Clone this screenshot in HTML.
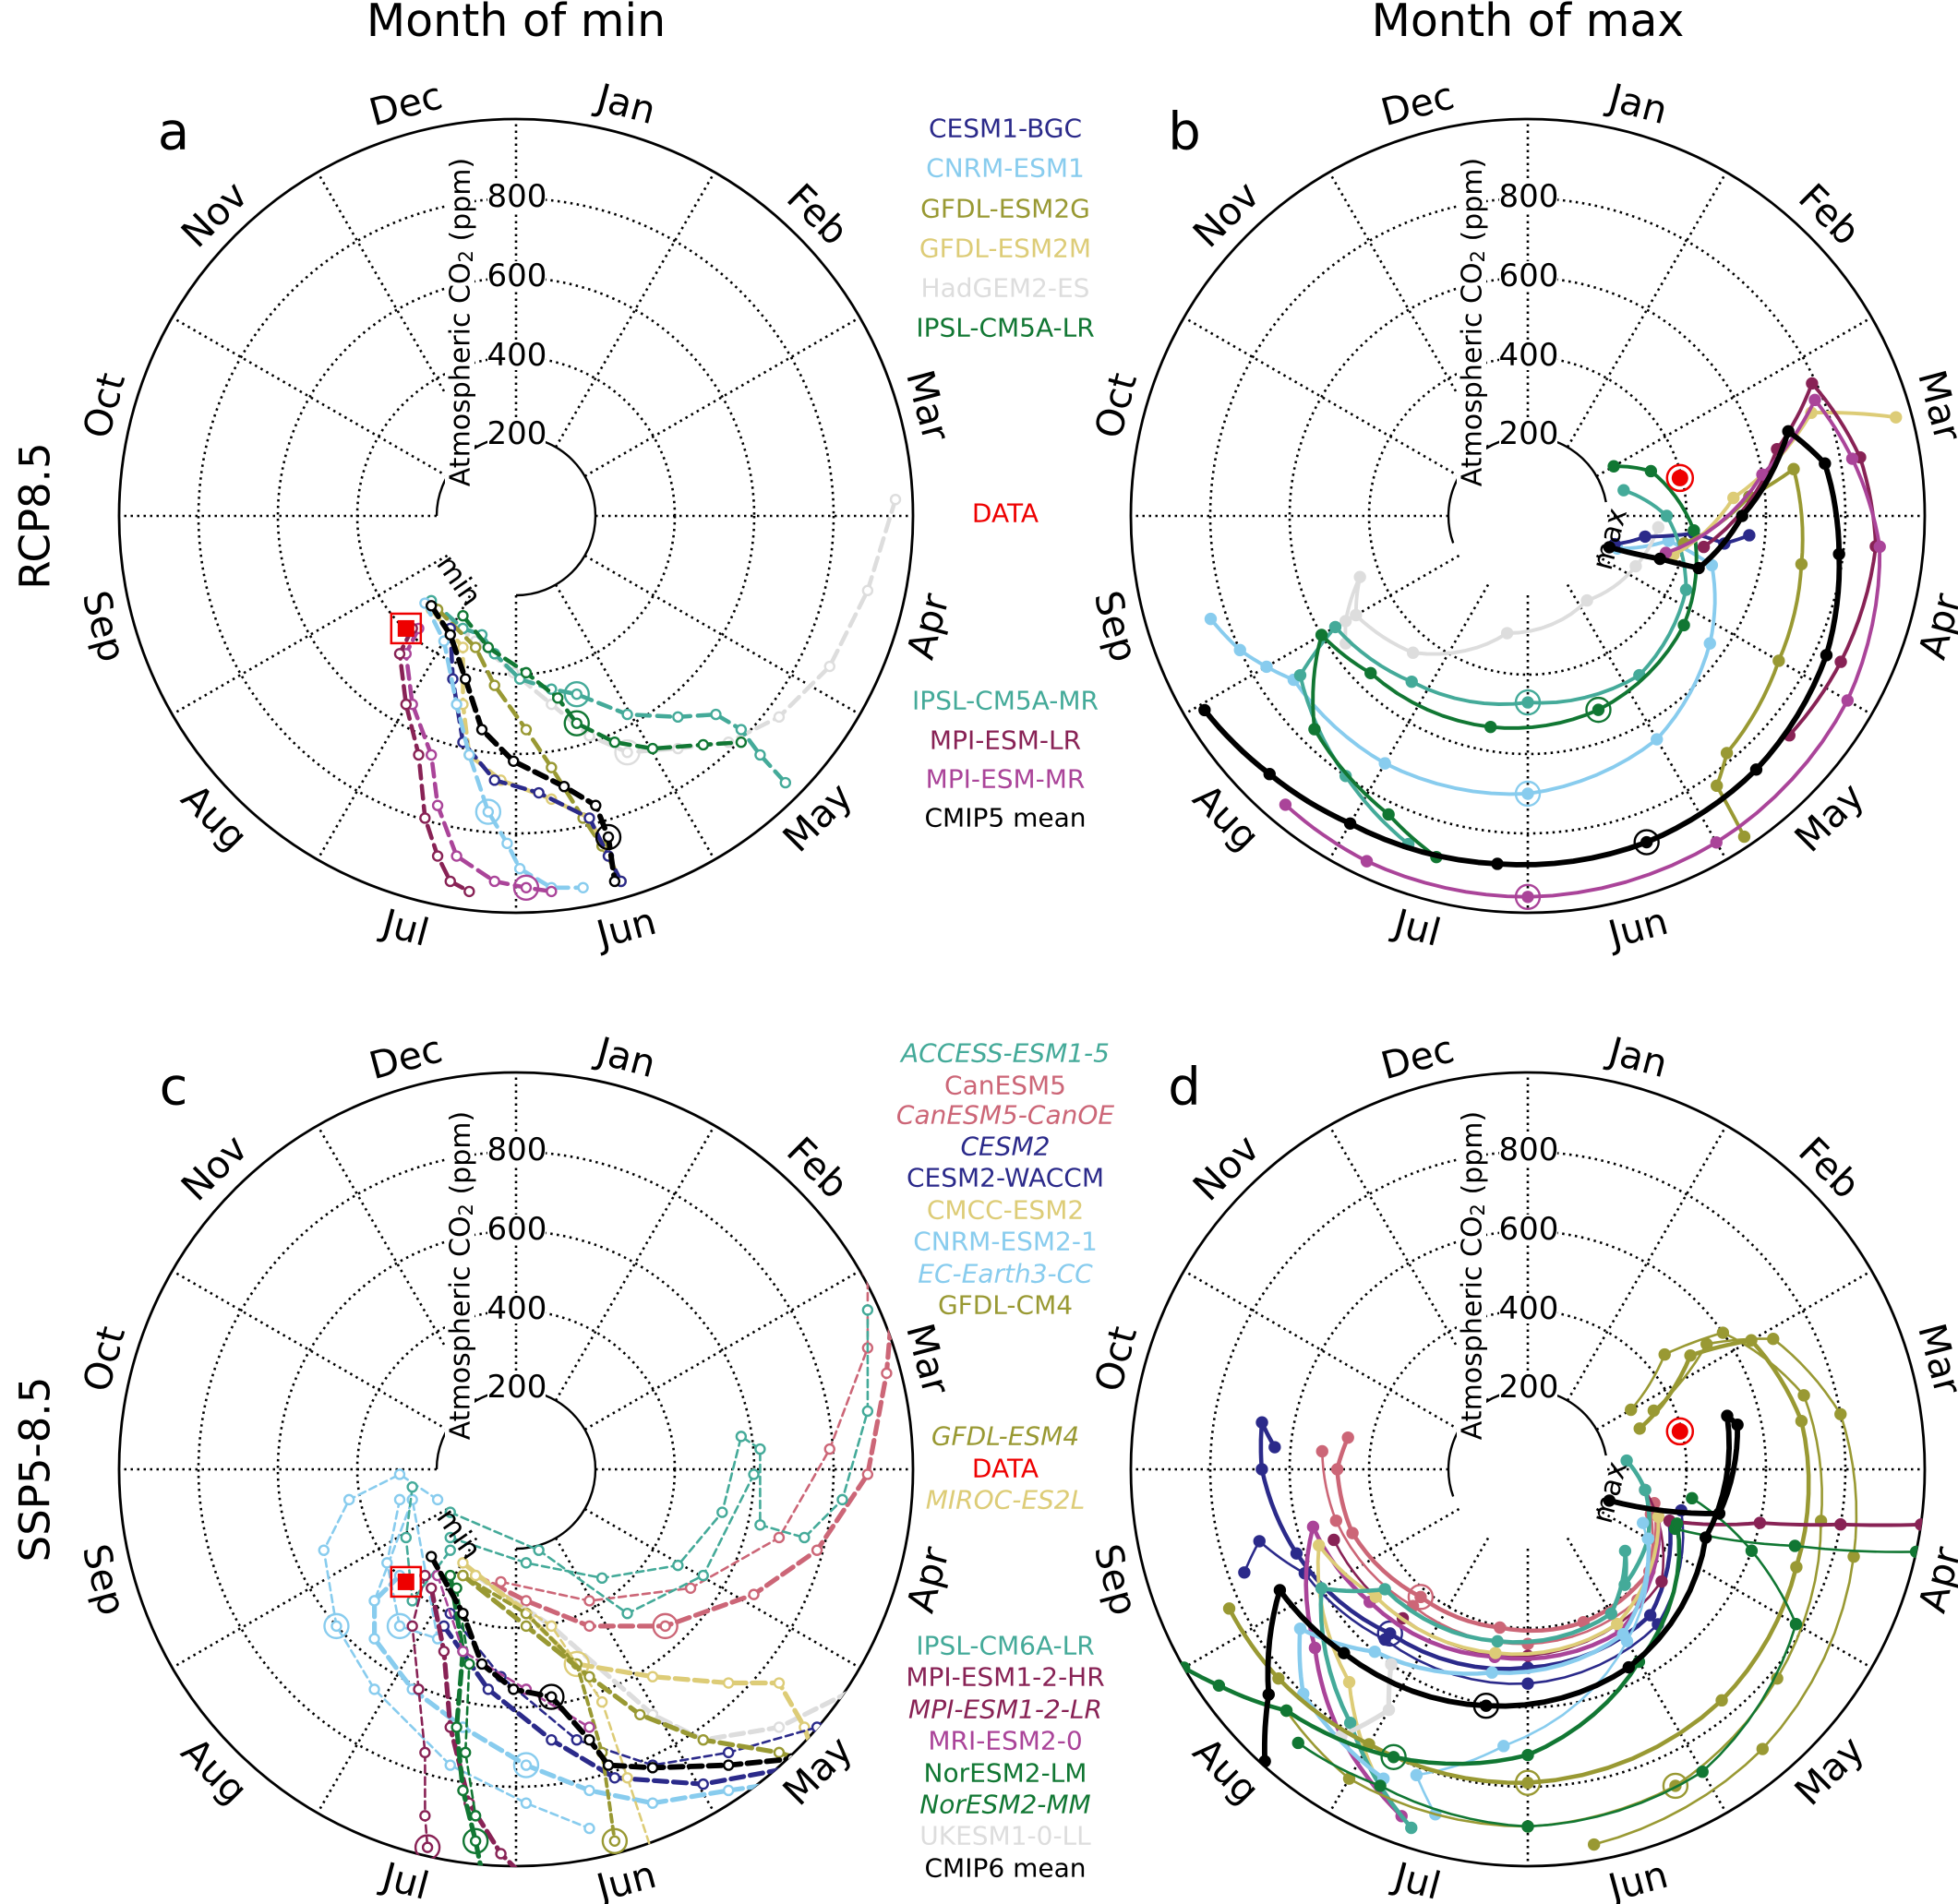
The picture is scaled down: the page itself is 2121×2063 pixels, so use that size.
<!DOCTYPE html>
<html><head><meta charset="utf-8"><style>
html,body{margin:0;padding:0;background:#fff;}
svg{display:block;font-family:"DejaVu Sans","Liberation Sans",sans-serif;}
.mon{font-size:41px;text-anchor:middle;dominant-baseline:central;}
.tick{font-size:34px;text-anchor:middle;dominant-baseline:central;}
.lg{font-size:28px;text-anchor:middle;dominant-baseline:central;}
.it{font-style:italic;}
.ttl{font-size:49px;text-anchor:middle;}
.let{font-size:56px;text-anchor:middle;dominant-baseline:central;}
</style></head><body>
<svg id="s" width="2121" height="2063" viewBox="0 0 2121 2063" xmlns="http://www.w3.org/2000/svg">
<defs>
<clipPath id="ca"><circle cx="559" cy="559" r="431"/></clipPath>
<clipPath id="cb"><circle cx="1655" cy="559" r="431"/></clipPath>
<clipPath id="cc"><circle cx="559" cy="1592" r="431"/></clipPath>
<clipPath id="cd"><circle cx="1655" cy="1592" r="431"/></clipPath>
</defs>
<g id="grid"></g>
<g id="curves"></g>
<g id="labels">
<text class="ttl" x="559" y="39">Month of min</text>
<text class="ttl" x="1655" y="39">Month of max</text>
<text class="let" x="188" y="143">a</text>
<text class="let" x="1283" y="143">b</text>
<text class="let" x="188" y="1178">c</text>
<text class="let" x="1283" y="1178">d</text>
<text class="ttl" transform="translate(38 559) rotate(-90)" y="0" dominant-baseline="central" style="font-size:45px">RCP8.5</text>
<text class="ttl" transform="translate(38 1592) rotate(-90)" y="0" dominant-baseline="central" style="font-size:45px">SSP5-8.5</text>

<g transform="translate(559 559)">
<text class="mon" transform="rotate(15) translate(0 -462)">Jan</text>
<text class="mon" transform="rotate(45) translate(0 -462)">Feb</text>
<text class="mon" transform="rotate(75) translate(0 -462)">Mar</text>
<text class="mon" transform="rotate(105) translate(0 -462) rotate(180)">Apr</text>
<text class="mon" transform="rotate(135) translate(0 -462) rotate(180)">May</text>
<text class="mon" transform="rotate(165) translate(0 -462) rotate(180)">Jun</text>
<text class="mon" transform="rotate(195) translate(0 -462) rotate(180)">Jul</text>
<text class="mon" transform="rotate(225) translate(0 -462) rotate(180)">Aug</text>
<text class="mon" transform="rotate(255) translate(0 -462) rotate(180)">Sep</text>
<text class="mon" transform="rotate(285) translate(0 -462)">Oct</text>
<text class="mon" transform="rotate(315) translate(0 -462)">Nov</text>
<text class="mon" transform="rotate(345) translate(0 -462)">Dec</text>
<text class="mon" style="font-size:31px" transform="translate(-62 70) rotate(55)">min</text>
</g>
<g transform="translate(1655 559)">
<text class="mon" transform="rotate(15) translate(0 -462)">Jan</text>
<text class="mon" transform="rotate(45) translate(0 -462)">Feb</text>
<text class="mon" transform="rotate(75) translate(0 -462)">Mar</text>
<text class="mon" transform="rotate(105) translate(0 -462) rotate(180)">Apr</text>
<text class="mon" transform="rotate(135) translate(0 -462) rotate(180)">May</text>
<text class="mon" transform="rotate(165) translate(0 -462) rotate(180)">Jun</text>
<text class="mon" transform="rotate(195) translate(0 -462) rotate(180)">Jul</text>
<text class="mon" transform="rotate(225) translate(0 -462) rotate(180)">Aug</text>
<text class="mon" transform="rotate(255) translate(0 -462) rotate(180)">Sep</text>
<text class="mon" transform="rotate(285) translate(0 -462)">Oct</text>
<text class="mon" transform="rotate(315) translate(0 -462)">Nov</text>
<text class="mon" transform="rotate(345) translate(0 -462)">Dec</text>
<text class="mon" style="font-size:31px" transform="translate(89 25) rotate(-75)">max</text>
</g>
<g transform="translate(559 1592)">
<text class="mon" transform="rotate(15) translate(0 -462)">Jan</text>
<text class="mon" transform="rotate(45) translate(0 -462)">Feb</text>
<text class="mon" transform="rotate(75) translate(0 -462)">Mar</text>
<text class="mon" transform="rotate(105) translate(0 -462) rotate(180)">Apr</text>
<text class="mon" transform="rotate(135) translate(0 -462) rotate(180)">May</text>
<text class="mon" transform="rotate(165) translate(0 -462) rotate(180)">Jun</text>
<text class="mon" transform="rotate(195) translate(0 -462) rotate(180)">Jul</text>
<text class="mon" transform="rotate(225) translate(0 -462) rotate(180)">Aug</text>
<text class="mon" transform="rotate(255) translate(0 -462) rotate(180)">Sep</text>
<text class="mon" transform="rotate(285) translate(0 -462)">Oct</text>
<text class="mon" transform="rotate(315) translate(0 -462)">Nov</text>
<text class="mon" transform="rotate(345) translate(0 -462)">Dec</text>
<text class="mon" style="font-size:31px" transform="translate(-62 70) rotate(55)">min</text>
</g>
<g transform="translate(1655 1592)">
<text class="mon" transform="rotate(15) translate(0 -462)">Jan</text>
<text class="mon" transform="rotate(45) translate(0 -462)">Feb</text>
<text class="mon" transform="rotate(75) translate(0 -462)">Mar</text>
<text class="mon" transform="rotate(105) translate(0 -462) rotate(180)">Apr</text>
<text class="mon" transform="rotate(135) translate(0 -462) rotate(180)">May</text>
<text class="mon" transform="rotate(165) translate(0 -462) rotate(180)">Jun</text>
<text class="mon" transform="rotate(195) translate(0 -462) rotate(180)">Jul</text>
<text class="mon" transform="rotate(225) translate(0 -462) rotate(180)">Aug</text>
<text class="mon" transform="rotate(255) translate(0 -462) rotate(180)">Sep</text>
<text class="mon" transform="rotate(285) translate(0 -462)">Oct</text>
<text class="mon" transform="rotate(315) translate(0 -462)">Nov</text>
<text class="mon" transform="rotate(345) translate(0 -462)">Dec</text>
<text class="mon" style="font-size:31px" transform="translate(89 25) rotate(-75)">max</text>
</g>

<g>
<text class="tick" x="560" y="470">200</text><text class="tick" x="560" y="385">400</text><text class="tick" x="560" y="299">600</text><text class="tick" x="560" y="213">800</text>
<text transform="translate(499 349) rotate(-90)" style="font-size:30px;text-anchor:middle;dominant-baseline:central">Atmospheric CO<tspan style="font-size:21px" dy="6">2</tspan><tspan dy="-6"> (ppm)</tspan></text>
</g>
<g transform="translate(1096 0)">
<text class="tick" x="560" y="470">200</text><text class="tick" x="560" y="385">400</text><text class="tick" x="560" y="299">600</text><text class="tick" x="560" y="213">800</text>
<text transform="translate(499 349) rotate(-90)" style="font-size:30px;text-anchor:middle;dominant-baseline:central">Atmospheric CO<tspan style="font-size:21px" dy="6">2</tspan><tspan dy="-6"> (ppm)</tspan></text>
</g>
<g transform="translate(0 1033)">
<text class="tick" x="560" y="470">200</text><text class="tick" x="560" y="385">400</text><text class="tick" x="560" y="299">600</text><text class="tick" x="560" y="213">800</text>
<text transform="translate(499 349) rotate(-90)" style="font-size:30px;text-anchor:middle;dominant-baseline:central">Atmospheric CO<tspan style="font-size:21px" dy="6">2</tspan><tspan dy="-6"> (ppm)</tspan></text>
</g>
<g transform="translate(1096 1033)">
<text class="tick" x="560" y="470">200</text><text class="tick" x="560" y="385">400</text><text class="tick" x="560" y="299">600</text><text class="tick" x="560" y="213">800</text>
<text transform="translate(499 349) rotate(-90)" style="font-size:30px;text-anchor:middle;dominant-baseline:central">Atmospheric CO<tspan style="font-size:21px" dy="6">2</tspan><tspan dy="-6"> (ppm)</tspan></text>
</g>

<text class="lg" x="1089" y="139" fill="#2b2a8a">CESM1-BGC</text>
<text class="lg" x="1089" y="182" fill="#88ccee">CNRM-ESM1</text>
<text class="lg" x="1089" y="226" fill="#999933">GFDL-ESM2G</text>
<text class="lg" x="1089" y="269" fill="#ddcc77">GFDL-ESM2M</text>
<text class="lg" x="1089" y="312" fill="#dddddd">HadGEM2-ES</text>
<text class="lg" x="1089" y="355" fill="#117733">IPSL-CM5A-LR</text>
<text class="lg" x="1089" y="556" fill="#ee0000">DATA</text>
<text class="lg" x="1089" y="759" fill="#44aa99">IPSL-CM5A-MR</text>
<text class="lg" x="1089" y="802" fill="#882255">MPI-ESM-LR</text>
<text class="lg" x="1089" y="844" fill="#aa4499">MPI-ESM-MR</text>
<text class="lg" x="1089" y="886" fill="#000">CMIP5 mean</text>
<text class="lg it" x="1089" y="1141" fill="#44aa99">ACCESS-ESM1-5</text>
<text class="lg" x="1089" y="1176" fill="#cc6677">CanESM5</text>
<text class="lg it" x="1089" y="1208" fill="#cc6677">CanESM5-CanOE</text>
<text class="lg it" x="1089" y="1242" fill="#2b2a8a">CESM2</text>
<text class="lg" x="1089" y="1276" fill="#2b2a8a">CESM2-WACCM</text>
<text class="lg" x="1089" y="1311" fill="#ddcc77">CMCC-ESM2</text>
<text class="lg" x="1089" y="1345" fill="#88ccee">CNRM-ESM2-1</text>
<text class="lg it" x="1089" y="1380" fill="#88ccee">EC-Earth3-CC</text>
<text class="lg" x="1089" y="1414" fill="#999933">GFDL-CM4</text>
<text class="lg it" x="1089" y="1556" fill="#999933">GFDL-ESM4</text>
<text class="lg" x="1089" y="1591" fill="#ee0000">DATA</text>
<text class="lg it" x="1089" y="1625" fill="#ddcc77">MIROC-ES2L</text>
<text class="lg" x="1089" y="1783" fill="#44aa99">IPSL-CM6A-LR</text>
<text class="lg" x="1089" y="1817" fill="#882255">MPI-ESM1-2-HR</text>
<text class="lg it" x="1089" y="1852" fill="#882255">MPI-ESM1-2-LR</text>
<text class="lg" x="1089" y="1886" fill="#aa4499">MRI-ESM2-0</text>
<text class="lg" x="1089" y="1921" fill="#117733">NorESM2-LM</text>
<text class="lg it" x="1089" y="1955" fill="#117733">NorESM2-MM</text>
<text class="lg" x="1089" y="1989" fill="#dddddd">UKESM1-0-LL</text>
<text class="lg" x="1089" y="2024" fill="#000">CMIP6 mean</text>
</g>
</svg>
<script>
(function(){
var NS="http://www.w3.org/2000/svg";
var grid=document.getElementById("grid"),cur=document.getElementById("curves");
function el(p,t,a){var e=document.createElementNS(NS,t);for(var k in a)e.setAttribute(k,a[k]);p.appendChild(e);return e;}
var P={a:[559,559,412,411],b:[1655,559,1222,411],c:[559,1592,412,1176],d:[1655,1592,1222,1176]};
function pol(p,th,v){var c=P[p],r=0.43*v,t=th*Math.PI/180;return [c[0]+r*Math.sin(t),c[1]-r*Math.cos(t)];}
function arcPath(cx,cy,r,a1,a2){var p1=[cx+r*Math.sin(a1*Math.PI/180),cy-r*Math.cos(a1*Math.PI/180)],p2=[cx+r*Math.sin(a2*Math.PI/180),cy-r*Math.cos(a2*Math.PI/180)];var span=((a2-a1)%360+360)%360;return "M"+p1[0]+","+p1[1]+" A"+r+","+r+" 0 "+(span>180?1:0)+" 1 "+p2[0]+","+p2[1];}
for(var k in P){var cx=P[k][0],cy=P[k][1];
 [172,258,344].forEach(function(r){el(grid,"circle",{cx:cx,cy:cy,r:r,fill:"none",stroke:"#000","stroke-width":2.6,"stroke-dasharray":"2.5 4.5"});});
 for(var i=0;i<12;i++){var t=i*30*Math.PI/180;el(grid,"line",{x1:cx+86*Math.sin(t),y1:cy-86*Math.cos(t),x2:cx+430*Math.sin(t),y2:cy-430*Math.cos(t),stroke:"#000","stroke-width":2.6,"stroke-dasharray":"2.5 4.5"});}
 el(grid,"circle",{cx:cx,cy:cy,r:430,fill:"none",stroke:"#000","stroke-width":2.8});
 var inner=(k=="a"||k=="c")?[270,180]:[250,80];
 el(grid,"path",{d:arcPath(cx,cy,86,inner[0],inner[1]),fill:"none",stroke:"#000","stroke-width":2.4});
}
[[559,559],[1655,559],[559,1592],[1655,1592]].forEach(function(c){
 [470,385,299,213].forEach(function(y){el(grid,"rect",{x:c[0]-31,y:y-559+c[1]-16,width:63,height:32,fill:"#fff"});});
 el(grid,"rect",{x:c[0]-77,y:c[1]-400,width:32,height:378,fill:"#fff"});
});
var S=1.37;
function xy(p,pts){var c=P[p];return pts.map(function(q){return [c[0]+(q[0]-c[2])*S,c[1]+(q[1]-c[3])*S];});}
function polp(p,pts){var out=[];for(var i=0;i<pts.length;i++){if(i==0){out.push(pol(p,pts[0][0],pts[0][1]));continue;}var a=pts[i-1],b=pts[i];for(var j=1;j<=8;j++){var f=j/8;out.push(pol(p,a[0]+(b[0]-a[0])*f,a[1]+(b[1]-a[1])*f));}}return out;}
function draw(p,pts,col,w,dash,mk,verts,big){
 var g=el(cur,"g",{"clip-path":"url(#c"+p+")"});
 var d="M"+pts.map(function(q){return q[0].toFixed(1)+","+q[1].toFixed(1);}).join(" L");
 var a={d:d,fill:"none",stroke:col,"stroke-width":w*1.3,"stroke-linejoin":"round","stroke-linecap":"round"};
 if(dash)a["stroke-dasharray"]=dash;
 el(g,"path",a);
 var vs=verts||pts;
 vs.forEach(function(q){el(g,"circle",{cx:q[0],cy:q[1],r:mk||5.5,fill:(dash?"#fff":col),stroke:col,"stroke-width":2.4});});
 if(big!==undefined&&vs[big])el(g,"circle",{cx:vs[big][0],cy:vs[big][1],r:13,fill:"none",stroke:col,"stroke-width":2.4});
}
function DX(p,pts,col,w,dash,big){var q=xy(p,pts);draw(p,q,col,w,dash,5,q,big);}
function DP(p,pts,col,w,big){var q=polp(p,pts);var v=pts.map(function(t){return pol(p,t[0],t[1]);});draw(p,q,col,w,null,5.5,v,big);}
var C={cb:"#2b2a8a",cn:"#88ccee",g2g:"#999933",g2m:"#ddcc77",had:"#dddddd",ilr:"#117733",imr:"#44aa99",mlr:"#882255",mmr:"#aa4499",can:"#cc6677",k:"#000"};
var dA="14 8";
DX("a",[[712,398],[690,470],[660,530],[620,570],[580,590],[540,595],[500,598],[470,585],[440,560],[410,535],[380,510],[350,485]],C.had,3.5,dA,6);
DX("a",[[345,478],[370,500],[385,505],[395,520],[415,540],[440,548],[460,552],[500,568],[540,570],[570,568],[590,580],[605,600],[625,622]],C.imr,3.5,dA,6);
DX("a",[[370,490],[390,515],[420,535],[445,555],[460,575],[490,590],[520,595],[560,592],[590,590]],C.ilr,3.5,dA,4);
DX("a",[[350,485],[380,515],[395,545],[420,580],[440,610],[465,650],[480,672],[495,700]],C.g2g,3.5,dA);
DX("a",[[345,485],[370,515],[370,560],[375,600],[400,620],[440,635],[470,650],[485,680],[495,700]],C.g2m,3.5,dA);
DX("a",[[360,500],[362,540],[370,590],[395,620],[430,630],[470,650],[485,680],[495,700]],C.cb,3.5,dA);
DX("a",[[340,480],[355,510],[365,560],[375,600],[390,645],[405,670],[415,690],[440,705],[465,705]],C.cn,3.5,dA,4);
DX("a",[[335,500],[325,520],[330,560],[345,600],[350,640],[365,680],[395,700],[420,705],[440,708]],C.mmr,3.5,dA,7);
DX("a",[[330,500],[320,520],[325,560],[335,600],[340,650],[350,680],[360,700],[375,708]],C.mlr,3.5,dA);
DX("a",[[345,482],[360,505],[372,540],[385,580],[410,605],[450,625],[475,640],[485,665],[490,700]],C.k,4.5,dA,7);
var dc="8 5";
DX("c",[[400,1265],[470,1280],[550,1270],[620,1230],[660,1160],[690,1080],[690,1020],[680,1000]],C.can,2,dc);
DX("c",[[380,1260],[420,1280],[470,1300],[530,1300],[600,1275],[650,1240],[690,1180],[705,1100],[710,1040]],C.can,4,"14 7",3);
DX("c",[[360,1230],[420,1250],[480,1262],[540,1252],[575,1210],[590,1150],[605,1160],[605,1220],[640,1230],[670,1200],[690,1130],[690,1050]],C.imr,2,dc);
DX("c",[[360,1210],[430,1240],[500,1290],[560,1260],[600,1180]],C.imr,2,dc);
DX("c",[[380,1260],[440,1300],[520,1370],[560,1390],[620,1380],[680,1350]],C.had,4,"14 7");
DX("c",[[370,1250],[420,1290],[460,1330],[520,1340],[580,1345],[620,1345],[640,1380],[650,1410]],C.g2m,4,"14 7",2);
DX("c",[[360,1290],[400,1340],[460,1390],[520,1410],[580,1400],[650,1380],[700,1350],[720,1330]],C.cb,2,dc);
DX("c",[[355,1300],[390,1350],[440,1390],[490,1420],[560,1425],[640,1410],[700,1380]],C.cb,4,"14 7");
DX("c",[[320,1260],[300,1280],[300,1310],[330,1350],[370,1380],[420,1410],[470,1430],[520,1440],[580,1430],[650,1420]],C.cn,4,"14 7",5);
DX("c",[[350,1200],[320,1180],[280,1200],[260,1240],[270,1300],[300,1350],[360,1410],[420,1440],[470,1460]],C.cn,2,dc,4);
DX("c",[[320,1200],[310,1250],[320,1300],[350,1310],[330,1200],[300,1280]],C.cn,2,dc,2);
DX("c",[[330,1190],[325,1230],[330,1280],[360,1240]],C.imr,2,dc);
DX("c",[[340,1260],[330,1300],[335,1350],[340,1400],[340,1450],[342,1475]],C.mlr,2,dc,5);
DX("c",[[345,1270],[355,1320],[360,1380],[375,1440],[400,1480],[430,1510]],C.mlr,4,"14 7");
DX("c",[[360,1260],[370,1320],[365,1380],[370,1430],[380,1470],[390,1520]],C.ilr,4,"14 7",4);
DX("c",[[365,1270],[375,1330],[372,1400],[380,1450]],C.ilr,2,dc);
DX("c",[[370,1260],[420,1290],[460,1330],[480,1400],[490,1470]],C.g2g,3,dc,4);
DX("c",[[380,1260],[440,1300],[480,1360],[500,1420],[520,1480]],C.g2m,2,dc);
DX("c",[[350,1260],[370,1320],[420,1350],[470,1380]],C.mmr,2,dc);
DX("c",[[370,1260],[420,1300],[470,1340],[510,1370],[560,1390],[620,1400],[635,1405]],C.g2g,4,"14 7");
DX("c",[[345,1245],[370,1290],[385,1330],[410,1350],[440,1356],[470,1390],[485,1410],[520,1412],[580,1410],[630,1405]],C.k,4.5,"14 7",4);
DP("b",[[110,240],[100,360],[105,480],[125,560],[150,650],[180,700],[210,720],[235,720],[240,760],[245,800],[252,840]],C.cn,3,5);
DP("b",[[95,330],[115,300],[145,260],[190,300],[220,450],[240,500],[250,450],[240,530],[235,560]],C.had,3);
DP("b",[[108,230],[100,300],[96,420],[98,500],[95,560]],C.cb,3);
DP("b",[[75,250],[90,350],[115,440],[145,490],[180,470],[215,510],[240,560],[235,700],[215,800],[200,880]],C.imr,3,4);
DP("b",[[60,250],[70,330],[95,420],[125,480],[160,520],[190,540],[225,560],[240,600],[225,760],[205,830],[195,890]],C.ilr,3,4);
DP("b",[[100,400],[85,560],[80,680],[100,700],[120,730],[140,780],[145,830],[146,975]],C.g2g,3);
DP("b",[[105,380],[85,520],[70,760],[75,960]],C.g2m,3);
DP("b",[[100,450],[75,650],[65,790],[80,850],[95,880],[115,870],[130,860]],C.mlr,3);
DP("b",[[105,360],[80,600],[68,780],[80,830],[95,890],[120,930],[150,950],[180,960],[205,960],[220,950]],C.mmr,3,7);
DP("b",[[111,220],[108,350],[107,450],[90,540],[72,690],[80,760],[97,790],[115,830],[138,860],[160,875],[185,880],[210,895],[225,920],[239,950]],C.k,4.5,9);
DP("d",[[105,330],[130,400],[160,410],[190,405],[220,420],[250,470],[270,480],[280,460]],C.can,3.5,4);
DP("d",[[110,330],[140,430],[180,440],[220,450],[255,500],[275,520]],C.can,2);
DP("d",[[110,380],[140,480],[180,500],[220,540],[250,620],[270,670],[280,680],[275,640]],C.cb,3.5,3);
DP("d",[[105,400],[140,510],[180,540],[220,560],[245,620],[255,700],[250,760]],C.cb,2);
DP("d",[[100,300],[130,440],[180,470],[220,490],[250,520]],C.mlr,2);
DP("d",[[110,350],[150,470],[190,480],[230,520],[255,560],[230,700],[215,820],[200,930]],C.mmr,3.5);
DP("d",[[110,350],[150,450],[190,470],[230,500],[250,560],[220,700],[205,880]],C.g2m,3);
DP("d",[[85,250],[100,300],[120,350],[140,380],[130,320],[150,420],[190,440],[230,470],[240,600],[215,780],[198,950]],C.imr,3.5);
DP("d",[[120,350],[150,480],[190,520],[220,600],[235,700],[225,800],[205,860]],C.cn,3.5);
DP("d",[[115,320],[150,500],[185,700],[200,820],[195,900]],C.cn,2);
DP("d",[[215,600],[210,700],[215,820]],C.had,4);
DP("d",[[60,300],[50,450],[55,600],[75,720],[100,750],[130,820],[155,880],[180,900],[210,900],[225,860]],C.g2g,2,6);
DP("d",[[65,350],[55,550],[62,700],[80,800],[105,850],[140,920],[170,960]],C.g2g,2);
DP("d",[[70,300],[55,500],[60,650],[80,700],[110,720],[140,760],[180,790],[210,800],[230,820],[245,830]],C.g2g,3.5,6);
DP("d",[[110,380],[103,600],[100,800],[98,1000]],C.mlr,3);
DP("d",[[112,400],[106,700],[102,1000]],C.ilr,2);
DP("d",[[110,400],[150,560],[180,720],[205,800],[225,860],[235,950],[240,1000]],C.ilr,3.5,3);
DP("d",[[100,420],[110,600],[120,780],[150,880],[180,900],[205,880],[220,900]],C.ilr,2);
DP("d",[[111,220],[103,495],[78,540],[75,520],[111,480],[153,560],[190,605],[225,655],[244,695],[229,865],[222,990]],C.k,4.5,6);
var q=pol("b",76,395);el(cur,"circle",{cx:q[0],cy:q[1],r:9,fill:"#ee0000"});el(cur,"circle",{cx:q[0],cy:q[1],r:14,fill:"none",stroke:"#ee0000","stroke-width":2.5});
q=pol("d",76,395);el(cur,"circle",{cx:q[0],cy:q[1],r:9,fill:"#ee0000"});el(cur,"circle",{cx:q[0],cy:q[1],r:14,fill:"none",stroke:"#ee0000","stroke-width":2.5});
[["a",[325,500]],["c",[325,1265]]].forEach(function(t){var z=xy(t[0],[t[1]])[0];el(cur,"rect",{x:z[0]-9,y:z[1]-9,width:18,height:18,fill:"#ee0000"});el(cur,"rect",{x:z[0]-16,y:z[1]-16,width:32,height:32,fill:"none",stroke:"#ee0000","stroke-width":2.5});});
})();
</script>
</body></html>
